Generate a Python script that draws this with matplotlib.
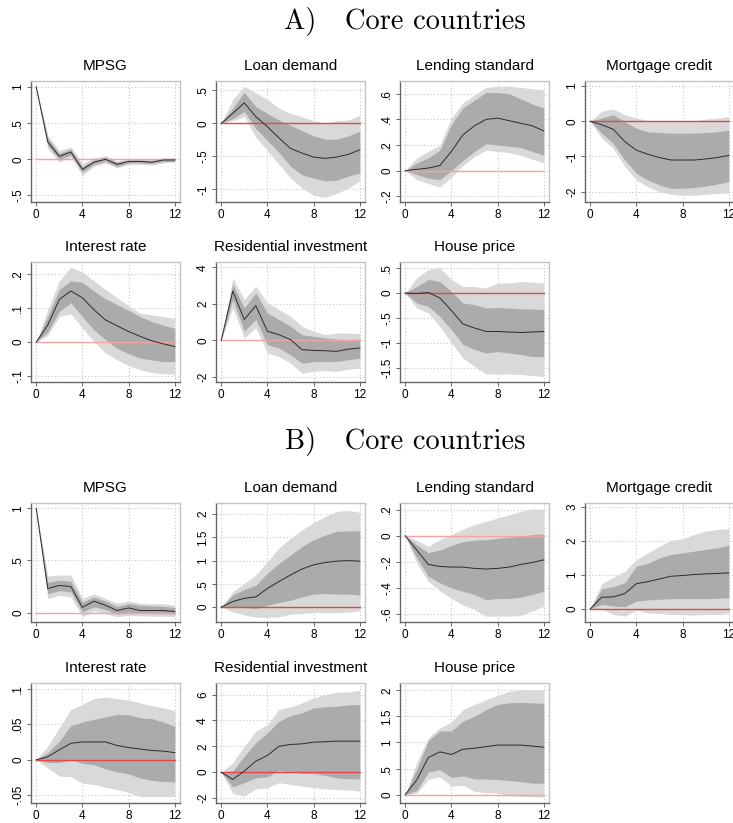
import numpy as np
import matplotlib
matplotlib.use('Agg')
import matplotlib.pyplot as plt
from matplotlib.ticker import FuncFormatter

plt.rcParams['font.family'] = ['Liberation Sans', 'DejaVu Sans']

horizon = list(range(13))

# ---------------- A) Core countries ----------------
a_mpsg_irf    = [1.0, 0.24, 0.04, 0.10, -0.14, -0.04, 0.00, -0.07, -0.03, -0.03, -0.04, -0.01, -0.01]
a_mpsg_in_hi  = [1.0, 0.29, 0.08, 0.14, -0.10, -0.01, 0.03, -0.04, -0.01, -0.01, -0.02, 0.01, 0.01]
a_mpsg_in_lo  = [1.0, 0.19, 0.00, 0.06, -0.18, -0.07, -0.03, -0.10, -0.05, -0.05, -0.06, -0.03, -0.03]
a_mpsg_out_hi = [1.0, 0.33, 0.12, 0.17, -0.06, 0.02, 0.05, -0.02, 0.01, 0.01, 0.00, 0.02, 0.02]
a_mpsg_out_lo = [1.0, 0.15, -0.04, 0.03, -0.22, -0.10, -0.05, -0.12, -0.07, -0.07, -0.08, -0.05, -0.04]

a_loan_irf    = [0, 0.15, 0.31, 0.10, -0.05, -0.22, -0.38, -0.45, -0.51, -0.53, -0.51, -0.47, -0.40]
a_loan_in_hi  = [0, 0.23, 0.47, 0.25, 0.15, 0.05, -0.03, -0.11, -0.19, -0.24, -0.24, -0.19, -0.12]
a_loan_in_lo  = [0, 0.07, 0.18, -0.08, -0.26, -0.44, -0.65, -0.78, -0.83, -0.87, -0.86, -0.80, -0.75]
a_loan_out_hi = [0, 0.36, 0.56, 0.46, 0.36, 0.23, 0.15, 0.10, 0.04, 0.00, 0.04, 0.05, 0.12]
a_loan_out_lo = [0, 0.04, 0.10, -0.21, -0.41, -0.62, -0.83, -0.98, -1.09, -1.12, -1.06, -0.98, -0.87]

a_lend_irf    = [0, 0.01, 0.02, 0.04, 0.15, 0.28, 0.35, 0.40, 0.41, 0.39, 0.37, 0.35, 0.31]
a_lend_in_hi  = [0, 0.06, 0.10, 0.16, 0.36, 0.49, 0.55, 0.61, 0.61, 0.60, 0.56, 0.52, 0.49]
a_lend_in_lo  = [0, -0.03, -0.06, -0.07, 0.00, 0.08, 0.15, 0.21, 0.20, 0.19, 0.18, 0.15, 0.12]
a_lend_out_hi = [0, 0.10, 0.15, 0.20, 0.41, 0.53, 0.59, 0.65, 0.66, 0.66, 0.65, 0.64, 0.63]
a_lend_out_lo = [0, -0.07, -0.10, -0.13, -0.05, 0.04, 0.11, 0.16, 0.15, 0.14, 0.12, 0.09, 0.06]

a_mort_irf    = [0, -0.10, -0.23, -0.58, -0.82, -0.94, -1.03, -1.10, -1.10, -1.10, -1.07, -1.03, -0.97]
a_mort_in_hi  = [0, 0.09, 0.18, -0.01, -0.20, -0.30, -0.32, -0.34, -0.34, -0.34, -0.32, -0.30, -0.25]
a_mort_in_lo  = [0, -0.34, -0.63, -1.10, -1.48, -1.67, -1.81, -1.90, -1.90, -1.88, -1.84, -1.78, -1.71]
a_mort_out_hi = [0, 0.28, 0.35, 0.18, 0.09, 0.02, 0.00, -0.01, -0.01, 0.01, 0.06, 0.09, 0.13]
a_mort_out_lo = [0, -0.48, -0.77, -1.29, -1.67, -1.86, -2.00, -2.07, -2.10, -2.10, -2.07, -2.05, -2.03]

a_rate_irf    = [0, 0.050, 0.125, 0.150, 0.130, 0.095, 0.065, 0.048, 0.031, 0.017, 0.004, -0.005, -0.013]
a_rate_in_hi  = [0, 0.075, 0.155, 0.180, 0.175, 0.150, 0.127, 0.110, 0.093, 0.075, 0.060, 0.050, 0.040]
a_rate_in_lo  = [0, 0.030, 0.090, 0.115, 0.075, 0.036, 0.007, -0.018, -0.034, -0.047, -0.052, -0.057, -0.057]
a_rate_out_hi = [0, 0.095, 0.180, 0.220, 0.205, 0.180, 0.155, 0.130, 0.107, 0.085, 0.080, 0.075, 0.070]
a_rate_out_lo = [0, 0.020, 0.075, 0.083, 0.041, 0.002, -0.032, -0.052, -0.069, -0.081, -0.089, -0.093, -0.094]

a_resi_irf    = [0, 2.70, 1.14, 1.90, 0.50, 0.31, 0.04, -0.51, -0.55, -0.57, -0.60, -0.48, -0.42]
a_resi_in_hi  = [0, 3.06, 1.78, 2.60, 1.50, 1.14, 0.77, 0.31, 0.22, 0.13, 0.07, 0.04, 0.07]
a_resi_in_lo  = [0, 2.24, 0.50, 1.14, -0.24, -0.42, -0.79, -1.25, -1.16, -1.16, -1.16, -1.06, -0.97]
a_resi_out_hi = [0, 3.43, 2.24, 2.97, 2.05, 1.69, 1.32, 0.77, 0.50, 0.31, 0.40, 0.40, 0.37]
a_resi_out_lo = [0, 1.78, 0.13, 0.68, -0.70, -0.88, -1.25, -1.80, -1.70, -1.65, -1.70, -1.58, -1.52]

a_hous_irf    = [0, -0.01, 0.01, -0.10, -0.35, -0.62, -0.70, -0.77, -0.77, -0.78, -0.79, -0.78, -0.77]
a_hous_in_hi  = [0, 0.13, 0.27, 0.23, 0.03, -0.20, -0.23, -0.30, -0.29, -0.30, -0.32, -0.32, -0.33]
a_hous_in_lo  = [0, -0.20, -0.27, -0.47, -0.73, -1.03, -1.13, -1.20, -1.17, -1.20, -1.23, -1.27, -1.27]
a_hous_out_hi = [0, 0.30, 0.47, 0.51, 0.27, 0.13, 0.13, 0.10, 0.20, 0.20, 0.23, 0.22, 0.20]
a_hous_out_lo = [0, -0.30, -0.40, -0.67, -1.00, -1.30, -1.47, -1.62, -1.62, -1.62, -1.63, -1.65, -1.67]

# ---------------- B) Core countries ----------------
b_mpsg_irf    = [1.0, 0.23, 0.26, 0.25, 0.05, 0.11, 0.07, 0.02, 0.045, 0.02, 0.02, 0.02, 0.01]
b_mpsg_in_hi  = [1.0, 0.29, 0.31, 0.30, 0.10, 0.15, 0.11, 0.06, 0.085, 0.07, 0.065, 0.06, 0.05]
b_mpsg_in_lo  = [1.0, 0.18, 0.21, 0.20, 0.005, 0.055, 0.03, -0.015, 0.005, -0.005, -0.01, -0.01, -0.015]
b_mpsg_out_hi = [1.0, 0.35, 0.36, 0.36, 0.135, 0.18, 0.135, 0.09, 0.11, 0.09, 0.085, 0.085, 0.07]
b_mpsg_out_lo = [1.0, 0.135, 0.165, 0.15, -0.04, 0.015, -0.01, -0.04, -0.025, -0.03, -0.035, -0.035, -0.04]

b_loan_irf    = [0, 0.12, 0.19, 0.22, 0.40, 0.55, 0.69, 0.82, 0.91, 0.96, 0.99, 1.00, 0.99]
b_loan_in_hi  = [0, 0.26, 0.38, 0.47, 0.73, 0.94, 1.12, 1.30, 1.45, 1.55, 1.63, 1.64, 1.64]
b_loan_in_lo  = [0, 0.01, -0.01, -0.03, 0.04, 0.10, 0.15, 0.22, 0.28, 0.29, 0.28, 0.28, 0.26]
b_loan_out_hi = [0, 0.33, 0.51, 0.69, 0.98, 1.27, 1.48, 1.66, 1.82, 1.95, 2.06, 2.08, 2.04]
b_loan_out_lo = [0, -0.10, -0.17, -0.22, -0.22, -0.21, -0.15, -0.14, -0.12, -0.12, -0.12, -0.11, -0.08]

b_lend_irf    = [0, -0.11, -0.22, -0.235, -0.24, -0.24, -0.25, -0.255, -0.25, -0.24, -0.22, -0.205, -0.185]
b_lend_in_hi  = [0, -0.07, -0.13, -0.11, -0.075, -0.045, -0.035, -0.03, -0.02, -0.013, -0.005, 0.008, 0.013]
b_lend_in_lo  = [0, -0.17, -0.31, -0.36, -0.40, -0.425, -0.45, -0.49, -0.48, -0.48, -0.47, -0.45, -0.425]
b_lend_out_hi = [0, -0.035, -0.08, -0.03, 0.008, 0.05, 0.085, 0.11, 0.135, 0.16, 0.185, 0.205, 0.20]
b_lend_out_lo = [0, -0.21, -0.35, -0.42, -0.48, -0.53, -0.565, -0.615, -0.615, -0.615, -0.61, -0.575, -0.54]

b_mort_irf    = [0, 0.34, 0.35, 0.45, 0.74, 0.80, 0.88, 0.96, 0.98, 1.01, 1.03, 1.04, 1.06]
b_mort_in_hi  = [0, 0.59, 0.65, 0.77, 1.26, 1.34, 1.50, 1.60, 1.65, 1.70, 1.75, 1.80, 1.87]
b_mort_in_lo  = [0, 0.13, 0.08, 0.06, 0.23, 0.26, 0.28, 0.30, 0.30, 0.30, 0.30, 0.31, 0.33]
b_mort_out_hi = [0, 0.74, 0.92, 1.11, 1.45, 1.65, 1.84, 2.02, 2.06, 2.19, 2.29, 2.34, 2.36]
b_mort_out_lo = [0, 0.00, -0.17, -0.22, -0.04, -0.12, -0.14, -0.17, -0.17, -0.19, -0.17, -0.17, -0.14]

b_rate_irf    = [0, 0.004, 0.014, 0.023, 0.025, 0.025, 0.025, 0.020, 0.017, 0.015, 0.013, 0.012, 0.010]
b_rate_in_hi  = [0, 0.010, 0.026, 0.048, 0.053, 0.057, 0.060, 0.064, 0.063, 0.059, 0.058, 0.053, 0.047]
b_rate_in_lo  = [0, -0.004, -0.004, 0.000, -0.005, -0.007, -0.013, -0.017, -0.020, -0.026, -0.029, -0.031, -0.031]
b_rate_out_hi = [0, 0.019, 0.045, 0.071, 0.078, 0.086, 0.088, 0.086, 0.084, 0.080, 0.076, 0.073, 0.069]
b_rate_out_lo = [0, -0.012, -0.023, -0.024, -0.033, -0.035, -0.039, -0.042, -0.046, -0.052, -0.052, -0.052, -0.052]

b_resi_irf    = [0, -0.57, 0.08, 0.85, 1.29, 2.00, 2.14, 2.19, 2.32, 2.35, 2.40, 2.40, 2.40]
b_resi_in_hi  = [0, 0.08, 1.24, 2.27, 3.04, 3.94, 4.38, 4.59, 4.97, 5.05, 5.10, 5.20, 5.23]
b_resi_in_lo  = [0, -1.13, -0.82, -0.44, -0.36, 0.15, 0.00, -0.10, -0.10, -0.26, -0.44, -0.52, -0.52]
b_resi_out_hi = [0, 0.72, 2.01, 3.17, 3.69, 4.85, 5.05, 5.36, 5.75, 6.00, 6.19, 6.20, 6.34]
b_resi_out_lo = [0, -1.65, -1.86, -1.29, -1.21, -0.82, -0.95, -1.08, -1.21, -1.29, -1.34, -1.39, -1.47]

b_hous_irf    = [0, 0.28, 0.71, 0.82, 0.77, 0.87, 0.89, 0.92, 0.95, 0.95, 0.95, 0.93, 0.91]
b_hous_in_hi  = [0, 0.49, 1.03, 1.22, 1.22, 1.41, 1.50, 1.63, 1.73, 1.76, 1.77, 1.76, 1.75]
b_hous_in_lo  = [0, 0.08, 0.43, 0.48, 0.33, 0.36, 0.30, 0.30, 0.29, 0.27, 0.25, 0.22, 0.22]
b_hous_out_hi = [0, 0.62, 1.09, 1.28, 1.39, 1.63, 1.73, 1.82, 1.90, 1.98, 2.01, 2.01, 2.01]
b_hous_out_lo = [0, 0.03, 0.29, 0.34, 0.16, 0.18, 0.06, 0.04, 0.03, -0.02, -0.03, -0.04, -0.05]

titles = ['MPSG', 'Loan demand', 'Lending standard', 'Mortgage credit',
          'Interest rate', 'Residential investment', 'House price']

a_yticks = [[-0.5, 0, 0.5, 1], [-1, -0.5, 0, 0.5], [-0.2, 0, 0.2, 0.4, 0.6], [-2, -1, 0, 1],
            [-0.1, 0, 0.1, 0.2], [-2, 0, 2, 4], [-1.5, -1, -0.5, 0, 0.5]]
b_yticks = [[0, 0.5, 1], [0, 0.5, 1, 1.5, 2], [-0.6, -0.4, -0.2, 0, 0.2], [0, 1, 2, 3],
            [-0.05, 0, 0.05, 0.1], [-2, 0, 2, 4, 6], [0, 0.5, 1, 1.5, 2]]

a_series = [
    (a_mpsg_irf, a_mpsg_in_lo, a_mpsg_in_hi, a_mpsg_out_lo, a_mpsg_out_hi),
    (a_loan_irf, a_loan_in_lo, a_loan_in_hi, a_loan_out_lo, a_loan_out_hi),
    (a_lend_irf, a_lend_in_lo, a_lend_in_hi, a_lend_out_lo, a_lend_out_hi),
    (a_mort_irf, a_mort_in_lo, a_mort_in_hi, a_mort_out_lo, a_mort_out_hi),
    (a_rate_irf, a_rate_in_lo, a_rate_in_hi, a_rate_out_lo, a_rate_out_hi),
    (a_resi_irf, a_resi_in_lo, a_resi_in_hi, a_resi_out_lo, a_resi_out_hi),
    (a_hous_irf, a_hous_in_lo, a_hous_in_hi, a_hous_out_lo, a_hous_out_hi),
]
b_series = [
    (b_mpsg_irf, b_mpsg_in_lo, b_mpsg_in_hi, b_mpsg_out_lo, b_mpsg_out_hi),
    (b_loan_irf, b_loan_in_lo, b_loan_in_hi, b_loan_out_lo, b_loan_out_hi),
    (b_lend_irf, b_lend_in_lo, b_lend_in_hi, b_lend_out_lo, b_lend_out_hi),
    (b_mort_irf, b_mort_in_lo, b_mort_in_hi, b_mort_out_lo, b_mort_out_hi),
    (b_rate_irf, b_rate_in_lo, b_rate_in_hi, b_rate_out_lo, b_rate_out_hi),
    (b_resi_irf, b_resi_in_lo, b_resi_in_hi, b_resi_out_lo, b_resi_out_hi),
    (b_hous_irf, b_hous_in_lo, b_hous_in_hi, b_hous_out_lo, b_hous_out_hi),
]

# y-limits (the plot region has some padding around the data, stata style)
a_ylims = [(-0.59, 1.08), (-1.19, 0.64), (-0.245, 0.70), (-2.29, 1.14),
           (-0.117, 0.235), (-2.28, 4.29), (-1.78, 0.62)]
b_ylims = [(-0.09, 1.05), (-0.32, 2.24), (-0.66, 0.25), (-0.39, 3.12),
           (-0.061, 0.108), (-2.39, 6.9), (-0.16, 2.14)]

# zero line: strong red on some panels, pale on others
a_zero_strong = [False, True, False, True, False, False, True]
b_zero_strong = [False, True, False, True, True, True, False]


def stata_fmt(v, pos=None):
    s = f'{v:g}'
    if s.startswith('0.'):
        s = s[1:]
    elif s.startswith('-0.'):
        s = '-' + s[2:]
    return s


W, H = 733, 823
fig = plt.figure(figsize=(W / 100, H / 100), dpi=100)

col_left = [31, 216, 400, 585]
ax_w = 149
rows = {'A': [(81, 202), (262, 382)], 'B': [(503, 622), (683, 803)]}


def draw_panel(ax, title, data, yticks, ylim, strong):
    irf, in_lo, in_hi, out_lo, out_hi = data
    ax.fill_between(horizon, out_lo, out_hi, color='#d9d9d9', lw=0, zorder=1)
    ax.fill_between(horizon, in_lo, in_hi, color='#ababab', lw=0, zorder=2)
    zc = '#e8474a' if strong else '#f4a3a3'
    ax.plot([0, 12], [0, 0], color=zc, lw=1.0, zorder=3)
    ax.plot(horizon, irf, color='#2b2b2b', lw=0.7, zorder=4)
    ax.set_xlim(-0.45, 12.45)
    ax.set_ylim(*ylim)
    ax.set_xticks([0, 4, 8, 12])
    ax.set_yticks(yticks)
    ax.yaxis.set_major_formatter(FuncFormatter(stata_fmt))
    ax.grid(True, color='#c8c8c8', ls=(0, (1, 2)), lw=0.8, zorder=0)
    ax.set_axisbelow(True)
    ax.tick_params(labelsize=8.5, length=3, width=0.7, color='#666666', pad=2)
    plt.setp(ax.get_yticklabels(), rotation=90, va='center')
    for side in ['left', 'bottom']:
        ax.spines[side].set_color('#666666')
        ax.spines[side].set_linewidth(1.0)
    for side in ['top', 'right']:
        ax.spines[side].set_color('#c4c4c4')
        ax.spines[side].set_linewidth(1.0)
    ax.set_title(title, fontsize=11, pad=8)


for key, series, yt, yl, zs in [('A', a_series, a_yticks, a_ylims, a_zero_strong),
                                ('B', b_series, b_yticks, b_ylims, b_zero_strong)]:
    for i in range(7):
        r, c = divmod(i, 4)
        top, bot = rows[key][r]
        left = col_left[c]
        ax = fig.add_axes([left / W, 1 - bot / H, ax_w / W, (bot - top) / H])
        draw_panel(ax, titles[i], series[i], yt[i], yl[i], zs[i])

fig.text(405 / W, 1 - 22 / H, 'A)   Core countries', ha='center', va='center',
         family='cmr10', fontsize=20.5)
fig.text(405 / W, 1 - 441 / H, 'B)   Core countries', ha='center', va='center',
         family='cmr10', fontsize=20.5)

fig.savefig('out.png', dpi=100)
